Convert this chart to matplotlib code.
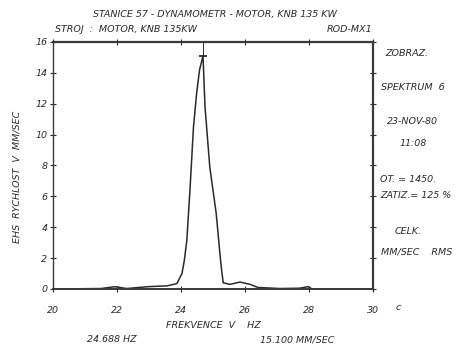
import matplotlib
matplotlib.use("Agg")
import matplotlib.pyplot as plt

# Vibration spectrum: RMS velocity vs frequency
freq_hz = [20.0, 21.0, 21.5, 21.94, 22.3, 22.97, 23.3, 23.56, 23.87, 24.03,
           24.1, 24.18, 24.28, 24.39, 24.49, 24.58, 24.688, 24.75, 24.9, 25.1,
           25.22, 25.27, 25.32, 25.53, 25.84, 26.16, 26.4, 27.1, 27.7, 27.97,
           28.1, 30.0]
velocity_mm_s = [0.0, 0.02, 0.03, 0.15, 0.03, 0.15, 0.18, 0.2, 0.35, 1.0,
                 1.8, 3.1, 6.4, 10.5, 12.7, 14.2, 15.1, 11.8, 7.9, 4.9,
                 2.2, 1.2, 0.4, 0.3, 0.45, 0.3, 0.1, 0.03, 0.05, 0.15,
                 0.0, 0.0]
peak_freq = 24.688
peak_value = 15.1

x_ticks = [20, 22, 24, 26, 28, 30]
y_ticks = [0, 2, 4, 6, 8, 10, 12, 14, 16]

W, H = 461, 347
fig = plt.figure(figsize=(W / 100, H / 100), dpi=100)
ax = fig.add_axes([53 / W, 1 - 289 / H, 320 / W, 247 / H])

ink = "#2a2a2a"
fs = 6.8
font = dict(family="DejaVu Sans", style="italic", color=ink, fontsize=fs)

ax.plot(freq_hz, velocity_mm_s, color=ink, lw=1.1, solid_joinstyle="round")
ax.plot([peak_freq], [peak_value], marker="_", ms=6, mew=1.3, color=ink)
ax.plot([peak_freq, peak_freq], [peak_value, 16], color=ink, lw=0.7)

ax.set_xlim(20, 30)
ax.set_ylim(0, 16)
ax.set_xticks(x_ticks)
ax.set_yticks(y_ticks)
ax.set_xticklabels([str(t) for t in x_ticks], **font)
ax.set_yticklabels([str(t) for t in y_ticks], **font)
ax.tick_params(axis="x", direction="inout", length=4, width=0.8, pad=10,
               colors=ink, top=True)
ax.tick_params(axis="y", direction="inout", length=4, width=0.8, pad=2,
               colors=ink, right=True)
for side, lw in [("left", 1.0), ("bottom", 1.4), ("top", 1.6), ("right", 1.6)]:
    ax.spines[side].set_linewidth(lw)
    ax.spines[side].set_color("#3a3a3a")

def ftext(px, py, s, ha="left", **kw):
    fig.text(px / W, 1 - py / H, s, ha=ha, va="center", **{**font, **kw})

ftext(215, 15, "STANICE 57 - DYNAMOMETR - MOTOR, KNB 135 KW", ha="center")
ftext(55, 30, "STROJ  :  MOTOR, KNB 135KW")
ftext(372, 30, "ROD-MX1", ha="right")

ftext(385, 53, "ZOBRAZ.")
ftext(381, 88, "SPEKTRUM  6")
ftext(387, 122, "23-NOV-80")
ftext(400, 143, "11:08")
ftext(380, 180, "OT. = 1450.")
ftext(380, 196, "ZATIZ.= 125 %")
ftext(395, 232, "CELK.")
ftext(381, 252, "MM/SEC    RMS")
ftext(396, 308, "c")

fig.text(17 / W, 1 - 177 / H, "EHS  RYCHLOST  V  MM/SEC", rotation=90,
         ha="center", va="center", **font)
ftext(213, 325, "FREKVENCE  V    HZ", ha="center")
ftext(112, 340, "24.688 HZ", ha="center")
ftext(297, 340, "15.100 MM/SEC", ha="center")

fig.savefig("out.png", dpi=100, facecolor="white")
